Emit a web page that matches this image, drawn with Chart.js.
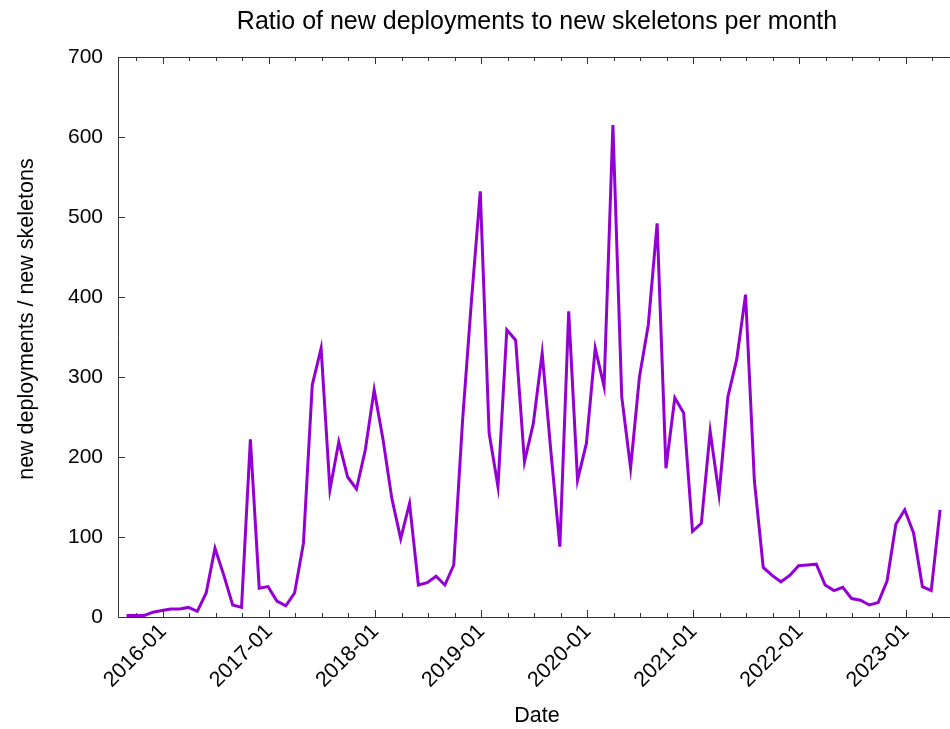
<!DOCTYPE html>
<html>
<head>
<meta charset="utf-8">
<script src="https://cdn.jsdelivr.net/npm/chart.js@4.4.0/dist/chart.umd.min.js"></script>
<style>
  html, body { margin: 0; padding: 0; background: #fff; overflow: hidden; }
  #wrap { width: 950px; height: 729px; overflow: hidden; }
</style>
</head>
<body>
<div id="wrap"><canvas id="ratioChart" width="966" height="729"></canvas></div>
<script>
// monthly samples
const months = [
    '2015-09', '2015-10', '2015-11', '2015-12',
    '2016-01', '2016-02', '2016-03', '2016-04', '2016-05', '2016-06', '2016-07', '2016-08', '2016-09', '2016-10', '2016-11', '2016-12',
    '2017-01', '2017-02', '2017-03', '2017-04', '2017-05', '2017-06', '2017-07', '2017-08', '2017-09', '2017-10', '2017-11', '2017-12',
    '2018-01', '2018-02', '2018-03', '2018-04', '2018-05', '2018-06', '2018-07', '2018-08', '2018-09', '2018-10', '2018-11', '2018-12',
    '2019-01', '2019-02', '2019-03', '2019-04', '2019-05', '2019-06', '2019-07', '2019-08', '2019-09', '2019-10', '2019-11', '2019-12',
    '2020-01', '2020-02', '2020-03', '2020-04', '2020-05', '2020-06', '2020-07', '2020-08', '2020-09', '2020-10', '2020-11', '2020-12',
    '2021-01', '2021-02', '2021-03', '2021-04', '2021-05', '2021-06', '2021-07', '2021-08', '2021-09', '2021-10', '2021-11', '2021-12',
    '2022-01', '2022-02', '2022-03', '2022-04', '2022-05', '2022-06', '2022-07', '2022-08', '2022-09', '2022-10', '2022-11', '2022-12',
    '2023-01', '2023-02', '2023-03', '2023-04', '2023-05'
];
const ratios = [
    2, 2, 2, 6,
    8, 10, 10, 12, 7, 30, 86, 52, 15, 12, 222, 36,
    38, 20, 14, 30, 92, 290, 336, 159, 219, 175, 160, 209,
    284, 222, 148, 98, 142, 40, 43, 51, 40, 65, 246, 395,
    532, 230, 163, 359, 346, 194, 242, 330, 205, 88, 382, 171,
    217, 336, 288, 615, 275, 186, 300, 365, 492, 186, 274, 255,
    107, 117, 232, 153, 275, 322, 403, 170, 62, 52, 44, 52,
    64, 65, 66, 40, 33, 37, 23, 21, 15, 18, 45, 116,
    134, 105, 38, 33, 134
];
const yearTicks = ['2016-01', '2017-01', '2018-01', '2019-01', '2020-01', '2021-01', '2022-01', '2023-01'];
const quarterTicks = [
    '2015-10',
    '2016-04', '2016-07', '2016-10', '2017-04', '2017-07', '2017-10',
    '2018-04', '2018-07', '2018-10', '2019-04', '2019-07', '2019-10',
    '2020-04', '2020-07', '2020-10', '2021-04', '2021-07', '2021-10',
    '2022-04', '2022-07', '2022-10', '2023-04'
];

const FONT = "'Liberation Sans', Arial, sans-serif";
const LINE = '#9400d3';
const AXIS = '#333333';

// months since 2016-01
function monthIndex(label) {
    const parts = label.split('-').map(Number);
    return (parts[0] - 2016) * 12 + (parts[1] - 1);
}

// samples sit a few days before the start of their month in the original plot
const points = months.map((m, i) => ({ x: monthIndex(m) - 0.15, y: ratios[i] }));

const xMin = -5.12;
const xMax = 89.65;

function tickAxis(position, list, len) {
    return {
        type: 'linear',
        axis: 'x',
        position: position,
        weight: 0,
        min: xMin,
        max: xMax,
        afterBuildTicks: s => { s.ticks = list.map(t => ({ value: monthIndex(t) })); },
        afterFit: s => { s.height = 0; },
        ticks: { display: false },
        grid: { drawOnChartArea: false, drawTicks: true, tickLength: len, tickColor: AXIS, tickWidth: 1 },
        border: { display: position === 'top', color: AXIS, width: 1 }
    };
}

new Chart(document.getElementById('ratioChart'), {
    type: 'line',
    data: {
        datasets: [{
            data: points,
            xAxisID: 'x',
            yAxisID: 'y',
            borderColor: LINE,
            borderWidth: 3,
            pointRadius: 0,
            tension: 0,
            fill: false
        }]
    },
    options: {
        responsive: false,
        devicePixelRatio: 1,
        animation: false,
        layout: { padding: { left: 0, right: 10, top: 0, bottom: 0 } },
        plugins: {
            legend: { display: false },
            tooltip: { enabled: false },
            title: {
                display: true,
                fullSize: false,
                text: 'Ratio of new deployments to new skeletons per month',
                color: '#000',
                font: { family: FONT, size: 25, weight: 'normal' },
                padding: { top: 7, bottom: 20 }
            }
        },
        scales: {
            x: {
                type: 'linear',
                position: 'bottom',
                weight: 1,
                min: xMin,
                max: xMax,
                afterBuildTicks: s => { s.ticks = yearTicks.map(t => ({ value: monthIndex(t) })); },
                afterFit: s => { s.height = 112; },
                ticks: {
                    callback: (v, i) => yearTicks[i],
                    autoSkip: false,
                    minRotation: 45,
                    maxRotation: 45,
                    padding: 9,
                    color: '#000',
                    font: { family: FONT, size: 21.5 }
                },
                grid: { drawOnChartArea: false, drawTicks: true, tickLength: -7, tickColor: AXIS, tickWidth: 1 },
                border: { display: true, color: AXIS, width: 1 },
                title: {
                    display: true,
                    text: 'Date',
                    color: '#000',
                    font: { family: FONT, size: 21.5, lineHeight: 1 },
                    padding: { top: 0, bottom: 2 }
                }
            },
            xMinor: tickAxis('bottom', quarterTicks, -4),
            xTop: Object.assign(tickAxis('top', yearTicks, -7), { weight: 1 }),
            xTopMinor: tickAxis('top', quarterTicks, -4),
            y: {
                type: 'linear',
                position: 'left',
                min: 0,
                max: 700,
                afterFit: s => { s.width = 118; },
                ticks: {
                    stepSize: 100,
                    padding: 22,
                    color: '#000',
                    font: { family: FONT, size: 21 }
                },
                grid: { drawOnChartArea: false, drawTicks: true, tickLength: -7, tickColor: AXIS, tickWidth: 1 },
                border: { display: true, color: AXIS, width: 1 },
                title: {
                    display: true,
                    // leading spaces lift the label a little, as in the original
                    text: '      new deployments / new skeletons',
                    color: '#000',
                    font: { family: FONT, size: 21.5 },
                    padding: { top: 14, bottom: 0 }
                }
            }
        }
    }
});
</script>
</body>
</html>
